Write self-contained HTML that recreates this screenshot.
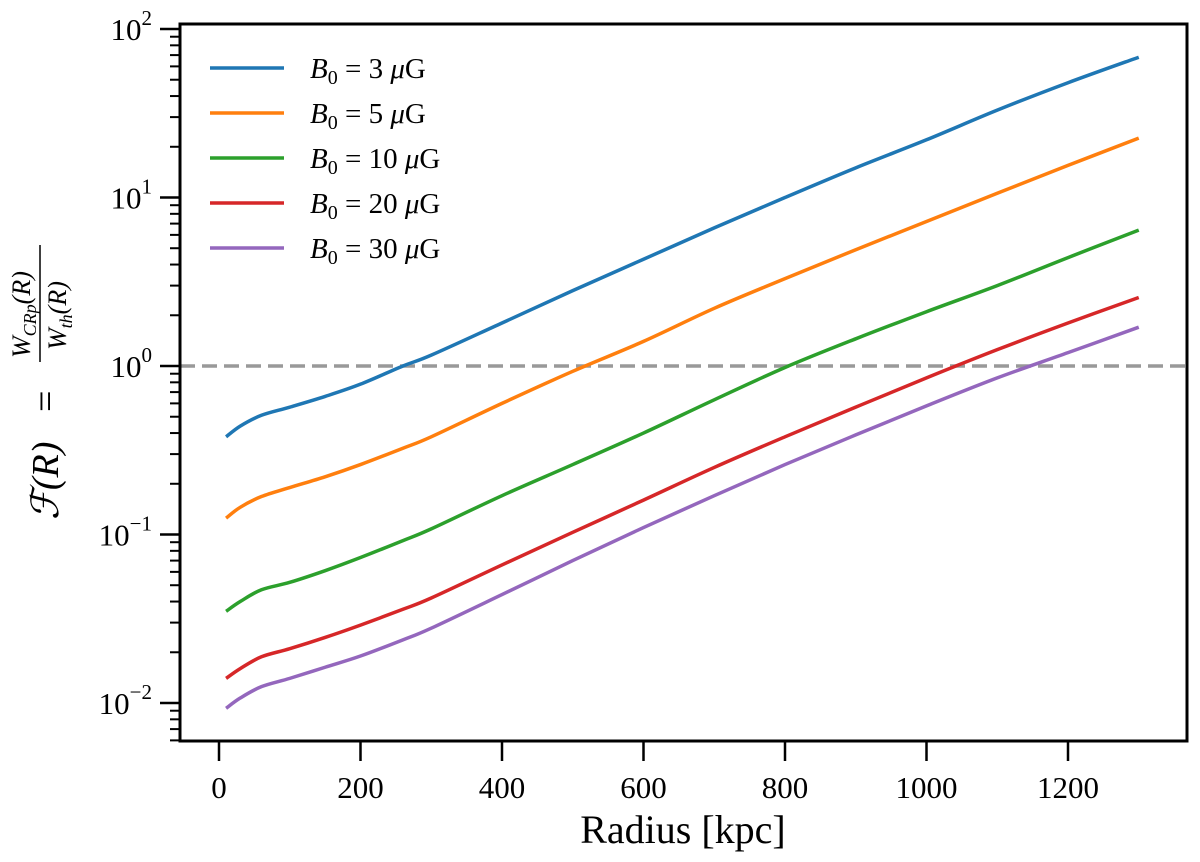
<!DOCTYPE html>
<html><head><meta charset="utf-8"><style>
body{margin:0;background:#fff}
svg text{font-family:"Liberation Serif",serif;fill:#000}
</style></head><body>
<svg id="chart" width="1200" height="857" viewBox="0 0 1200 857" xmlns="http://www.w3.org/2000/svg" font-family="Liberation Serif, serif">
<g id="plot"></g>
<g>
<text transform="translate(58,520) rotate(-90)" font-size="38" font-style="italic">ℱ(R)</text>
<text transform="translate(58,412) rotate(-90)" font-size="38">=</text>
<text transform="translate(30,358) rotate(-90)" font-size="26" font-style="italic">W<tspan font-size="18" dy="6">CRp</tspan><tspan dy="-6">(R)</tspan></text>
<line x1="40" x2="40" y1="245" y2="362" stroke="#000" stroke-width="1.5"/>
<text transform="translate(66,350) rotate(-90)" font-size="26" font-style="italic">W<tspan font-size="18" dy="6">th</tspan><tspan dy="-6">(R)</tspan></text>
</g>
</svg>
<script>
const radii=[10,30,60,100,150,200,260,300,400,500,600,700,800,900,1000,1100,1200,1300];
const seriesLabels=["3","5","10","20","30"];
const seriesColors=["#1f77b4","#ff7f0e","#2ca02c","#d62728","#9467bd"];
const seriesB3=[0.38,0.44,0.51,0.57,0.66,0.78,1.0,1.16,1.8,2.8,4.3,6.6,10,15,22,33,48,68];
const seriesB5=[0.125,0.145,0.168,0.19,0.22,0.26,0.325,0.38,0.6,0.93,1.4,2.2,3.3,4.9,7.2,10.6,15.5,22.5];
const seriesB10=[0.035,0.040,0.047,0.052,0.061,0.073,0.092,0.108,0.17,0.26,0.4,0.63,0.98,1.45,2.1,3.0,4.4,6.4];
const seriesB20=[0.014,0.016,0.0188,0.021,0.0245,0.029,0.036,0.042,0.066,0.103,0.16,0.25,0.38,0.57,0.85,1.25,1.8,2.55];
const seriesB30=[0.0093,0.0107,0.0125,0.014,0.0163,0.019,0.0237,0.0278,0.044,0.07,0.11,0.17,0.26,0.39,0.58,0.85,1.2,1.7];
const allSeries=[seriesB3,seriesB5,seriesB10,seriesB20,seriesB30];
const xTicks=[0,200,400,600,800,1000,1200];
const yTickExps=[-2,-1,0,1,2];
const refValue=1;

const L=180,R=1187,T=24,B=741;
const x=v=>219+v*(141.5/200);
const y=v=>366-Math.log10(v)*168.5;
const NS="http://www.w3.org/2000/svg";
const g=document.getElementById('plot');
function el(t,a,p){const e=document.createElementNS(NS,t);for(const k in a)e.setAttribute(k,a[k]);(p||g).appendChild(e);return e;}

const ref=el('line',{x1:L,x2:R,y1:y(refValue),y2:y(refValue),stroke:'#999',"stroke-width":3.5,"stroke-dasharray":"15,7"});



function smoothPath(pts){
  let d=`M${pts[0][0]},${pts[0][1]}`;
  for(let i=0;i<pts.length-1;i++){
    const p0=pts[Math.max(0,i-1)],p1=pts[i],p2=pts[i+1],p3=pts[Math.min(pts.length-1,i+2)];
    const c1=[p1[0]+(p2[0]-p0[0])/6,p1[1]+(p2[1]-p0[1])/6];
    const c2=[p2[0]-(p3[0]-p1[0])/6,p2[1]-(p3[1]-p1[1])/6];
    d+=` C${c1[0]},${c1[1]} ${c2[0]},${c2[1]} ${p2[0]},${p2[1]}`;
  }
  return d;
}
allSeries.forEach((s,i)=>{
  const pts=radii.map((r,j)=>[x(r),y(s[j])]);
  const p=el('path',{d:smoothPath(pts),fill:'none',stroke:seriesColors[i],"stroke-width":3.5});
  
  
});

const fr=el('rect',{x:L,y:T,width:R-L,height:B-T,fill:'none',stroke:'#000',"stroke-width":3});



xTicks.forEach(v=>{
  el('line',{x1:x(v),x2:x(v),y1:B,y2:B+20,stroke:'#000',"stroke-width":2.5});
  const t=el('text',{x:x(v),y:B+57,"text-anchor":"middle","font-size":31});
  t.textContent=v;
  
  
});
yTickExps.forEach(e=>{
  const yy=y(Math.pow(10,e));
  el('line',{x1:L-20,x2:L,y1:yy,y2:yy,stroke:'#000',"stroke-width":2.5});
  const t=el('text',{x:L-28,y:yy+11,"text-anchor":"end","font-size":31});
  
  
  t.innerHTML='10<tspan dy="-15" font-size="21">'+(e<0?'−'+(-e):e)+'</tspan>';
  for(let m=2;m<=9;m++){
    const yv=y(m*Math.pow(10,e));
    if(yv<T||yv>B)continue;
    el('line',{x1:L-10,x2:L,y1:yv,y2:yv,stroke:'#000',"stroke-width":2});
  }
});
for(let m=2;m<=9;m++){const yv=y(m*0.001);if(yv<=B)el('line',{x1:L-10,x2:L,y1:yv,y2:yv,stroke:'#000',"stroke-width":2});}

const xt=el('text',{x:683,y:843,"text-anchor":"middle","font-size":40});
xt.textContent='Radius [kpc]';



seriesLabels.forEach((lab,i)=>{
  const yy=68+i*45;
  const ln=el('line',{x1:210,x2:284,y1:yy,y2:yy,stroke:seriesColors[i],"stroke-width":3.5});
  
  
  const t=el('text',{x:310,y:yy+10,"font-size":29});
  t.innerHTML='<tspan font-style="italic">B</tspan><tspan font-size="20" dy="6">0</tspan><tspan dy="-6"> = '+lab+' </tspan><tspan font-style="italic">μ</tspan>G';
  
  
});
</script>
</body></html>
